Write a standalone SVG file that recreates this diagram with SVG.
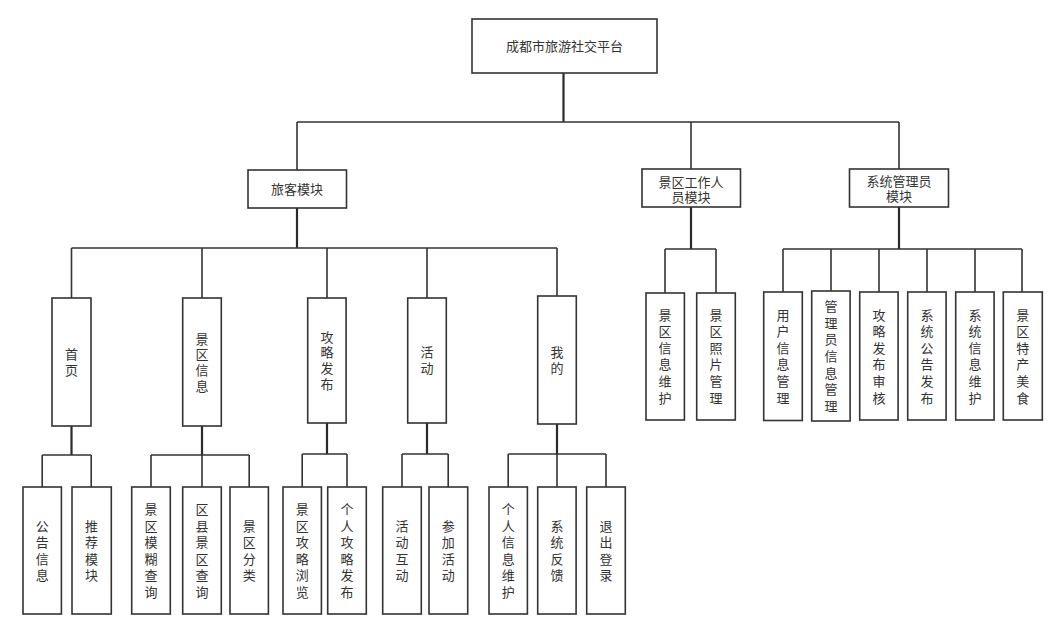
<svg xmlns="http://www.w3.org/2000/svg" width="1057" height="639" viewBox="0 0 1057 639">
<style>
.box{fill:#fff;stroke:#333;stroke-width:1.6}
.ln{fill:none;stroke:#333;stroke-width:1.6}
.tk{fill:none;stroke:#2b2b2b;stroke-width:2.2}
text{font-family:"Noto Sans CJK SC","Noto Sans",sans-serif;font-size:13px;fill:#333;text-anchor:middle}
</style>
<rect width="1057" height="639" fill="#fff"/>
<g id="connectors">
<path class="tk" d="M563.5 73V122M297 208V248M691 207V249M899 207V249M71.5 426V455M202 426V455M327 423V454M427 423V454M557 424V454"/>
<path class="ln" d="M297 122H899M297 122V170M691 122V169M899 122V169"/>
<path class="ln" d="M71.5 248H557M71.5 248V298M202 248V298M327 248V298M427 248V298M557 248V296"/>
<path class="ln" d="M665 249H716M665 249V293M716 249V293"/>
<path class="ln" d="M783 249H1022M783 249V292M831 249V292M879 249V292M927 249V292M975 249V292M1022 249V292"/>
<path class="ln" d="M42.2 455H91.2M42.2 455V487M91.2 455V487"/>
<path class="ln" d="M151 455H249.2M151 455V487M202 455V487M249.2 455V487"/>
<path class="ln" d="M302.2 454H347M302.2 454V487M347 454V487"/>
<path class="ln" d="M402 454H448.2M402 454V487M448.2 454V487"/>
<path class="ln" d="M508.2 454H606M508.2 454V487M557 454V487M606 454V487"/>
</g>
<g id="root"><rect class="box" x="472" y="19" width="185" height="54"/><text x="564.5" y="51">成都市旅游社交平台</text></g>
<g id="tourist"><rect class="box" x="248" y="170" width="98.5" height="38"/><text x="297" y="194">旅客模块</text></g>
<g id="staff"><rect class="box" x="642" y="169" width="98.5" height="38"/><text x="691" y="186.5">景区工作人<tspan x="691" dy="15">员模块</tspan></text></g>
<g id="admin"><rect class="box" x="849.5" y="169" width="99" height="38"/><text x="899" y="185.5">系统管理员<tspan x="899" dy="15.3">模块</tspan></text></g>

<g id="home"><rect class="box" x="52" y="298" width="39" height="128"/><text x="71.5" y="359.2">首<tspan x="71.5" dy="15.7">页</tspan></text></g>
<g id="spotinfo"><rect class="box" x="182.7" y="298" width="38.6" height="128"/><text x="202" y="343.5">景<tspan x="202" dy="15.7">区</tspan><tspan x="202" dy="15.7">信</tspan><tspan x="202" dy="15.7">息</tspan></text></g>
<g id="guide"><rect class="box" x="307.7" y="298" width="38.4" height="125"/><text x="327" y="341.5">攻<tspan x="327" dy="15.7">略</tspan><tspan x="327" dy="15.7">发</tspan><tspan x="327" dy="15.7">布</tspan></text></g>
<g id="activity"><rect class="box" x="407.7" y="298" width="38.6" height="125"/><text x="427" y="357.2">活<tspan x="427" dy="15.7">动</tspan></text></g>
<g id="mine"><rect class="box" x="537.7" y="296" width="38.6" height="128"/><text x="557" y="357.2">我<tspan x="557" dy="15.7">的</tspan></text></g>

<g id="s1"><rect class="box" x="646" y="293" width="38.4" height="127"/><text x="665" y="319.5">景<tspan x="665" dy="16.6">区</tspan><tspan x="665" dy="16.6">信</tspan><tspan x="665" dy="16.6">息</tspan><tspan x="665" dy="16.6">维</tspan><tspan x="665" dy="16.6">护</tspan></text></g>
<g id="s2"><rect class="box" x="696.7" y="293" width="38.6" height="127"/><text x="716" y="319.5">景<tspan x="716" dy="16.6">区</tspan><tspan x="716" dy="16.6">照</tspan><tspan x="716" dy="16.6">片</tspan><tspan x="716" dy="16.6">管</tspan><tspan x="716" dy="16.6">理</tspan></text></g>

<g id="a1"><rect class="box" x="763.7" y="292" width="38.6" height="128.5"/><text x="783" y="319.5">用<tspan x="783" dy="16.6">户</tspan><tspan x="783" dy="16.6">信</tspan><tspan x="783" dy="16.6">息</tspan><tspan x="783" dy="16.6">管</tspan><tspan x="783" dy="16.6">理</tspan></text></g>
<g id="a2"><rect class="box" x="811.7" y="291" width="38.4" height="130"/><text x="831" y="311.2">管<tspan x="831" dy="16.6">理</tspan><tspan x="831" dy="16.6">员</tspan><tspan x="831" dy="16.6">信</tspan><tspan x="831" dy="16.6">息</tspan><tspan x="831" dy="16.6">管</tspan><tspan x="831" dy="16.6">理</tspan></text></g>
<g id="a3"><rect class="box" x="859.7" y="292" width="38.4" height="128"/><text x="879" y="319.5">攻<tspan x="879" dy="16.6">略</tspan><tspan x="879" dy="16.6">发</tspan><tspan x="879" dy="16.6">布</tspan><tspan x="879" dy="16.6">审</tspan><tspan x="879" dy="16.6">核</tspan></text></g>
<g id="a4"><rect class="box" x="907.7" y="292" width="38.4" height="128"/><text x="927" y="319.5">系<tspan x="927" dy="16.6">统</tspan><tspan x="927" dy="16.6">公</tspan><tspan x="927" dy="16.6">告</tspan><tspan x="927" dy="16.6">发</tspan><tspan x="927" dy="16.6">布</tspan></text></g>
<g id="a5"><rect class="box" x="955.7" y="292" width="38.4" height="128"/><text x="975" y="319.5">系<tspan x="975" dy="16.6">统</tspan><tspan x="975" dy="16.6">信</tspan><tspan x="975" dy="16.6">息</tspan><tspan x="975" dy="16.6">维</tspan><tspan x="975" dy="16.6">护</tspan></text></g>
<g id="a6"><rect class="box" x="1003.3" y="292" width="39" height="128"/><text x="1022.8" y="319.5">景<tspan x="1022.8" dy="16.6">区</tspan><tspan x="1022.8" dy="16.6">特</tspan><tspan x="1022.8" dy="16.6">产</tspan><tspan x="1022.8" dy="16.6">美</tspan><tspan x="1022.8" dy="16.6">食</tspan></text></g>

<g id="b1"><rect class="box" x="23" y="487" width="38.4" height="127"/><text x="42.2" y="530.6">公<tspan x="42.2" dy="16.6">告</tspan><tspan x="42.2" dy="16.6">信</tspan><tspan x="42.2" dy="16.6">息</tspan></text></g>
<g id="b2"><rect class="box" x="72" y="487" width="39.3" height="127"/><text x="91.6" y="530.6">推<tspan x="91.6" dy="16.6">荐</tspan><tspan x="91.6" dy="16.6">模</tspan><tspan x="91.6" dy="16.6">块</tspan></text></g>
<g id="b3"><rect class="box" x="131.7" y="487" width="38.6" height="127"/><text x="151" y="514">景<tspan x="151" dy="16.6">区</tspan><tspan x="151" dy="16.6">模</tspan><tspan x="151" dy="16.6">糊</tspan><tspan x="151" dy="16.6">查</tspan><tspan x="151" dy="16.6">询</tspan></text></g>
<g id="b4"><rect class="box" x="182.7" y="487" width="38.6" height="127"/><text x="202" y="514">区<tspan x="202" dy="16.6">县</tspan><tspan x="202" dy="16.6">景</tspan><tspan x="202" dy="16.6">区</tspan><tspan x="202" dy="16.6">查</tspan><tspan x="202" dy="16.6">询</tspan></text></g>
<g id="b5"><rect class="box" x="230" y="487" width="38.4" height="127"/><text x="249.2" y="530.6">景<tspan x="249.2" dy="16.6">区</tspan><tspan x="249.2" dy="16.6">分</tspan><tspan x="249.2" dy="16.6">类</tspan></text></g>
<g id="b6"><rect class="box" x="283" y="487" width="38.4" height="127"/><text x="302.2" y="514">景<tspan x="302.2" dy="16.6">区</tspan><tspan x="302.2" dy="16.6">攻</tspan><tspan x="302.2" dy="16.6">略</tspan><tspan x="302.2" dy="16.6">浏</tspan><tspan x="302.2" dy="16.6">览</tspan></text></g>
<g id="b7"><rect class="box" x="327.7" y="487" width="38.6" height="127"/><text x="347" y="514">个<tspan x="347" dy="16.6">人</tspan><tspan x="347" dy="16.6">攻</tspan><tspan x="347" dy="16.6">略</tspan><tspan x="347" dy="16.6">发</tspan><tspan x="347" dy="16.6">布</tspan></text></g>
<g id="b8"><rect class="box" x="382.7" y="487" width="38.6" height="127"/><text x="402" y="530.6">活<tspan x="402" dy="16.6">动</tspan><tspan x="402" dy="16.6">互</tspan><tspan x="402" dy="16.6">动</tspan></text></g>
<g id="b9"><rect class="box" x="429" y="487" width="38.7" height="127"/><text x="448.3" y="530.6">参<tspan x="448.3" dy="16.6">加</tspan><tspan x="448.3" dy="16.6">活</tspan><tspan x="448.3" dy="16.6">动</tspan></text></g>
<g id="b10"><rect class="box" x="489" y="487" width="38.4" height="127"/><text x="508.2" y="514">个<tspan x="508.2" dy="16.6">人</tspan><tspan x="508.2" dy="16.6">信</tspan><tspan x="508.2" dy="16.6">息</tspan><tspan x="508.2" dy="16.6">维</tspan><tspan x="508.2" dy="16.6">护</tspan></text></g>
<g id="b11"><rect class="box" x="537.7" y="487" width="38.4" height="127"/><text x="557" y="530.6">系<tspan x="557" dy="16.6">统</tspan><tspan x="557" dy="16.6">反</tspan><tspan x="557" dy="16.6">馈</tspan></text></g>
<g id="b12"><rect class="box" x="586.7" y="487" width="38.6" height="127"/><text x="606" y="530.6">退<tspan x="606" dy="16.6">出</tspan><tspan x="606" dy="16.6">登</tspan><tspan x="606" dy="16.6">录</tspan></text></g>
</svg>
